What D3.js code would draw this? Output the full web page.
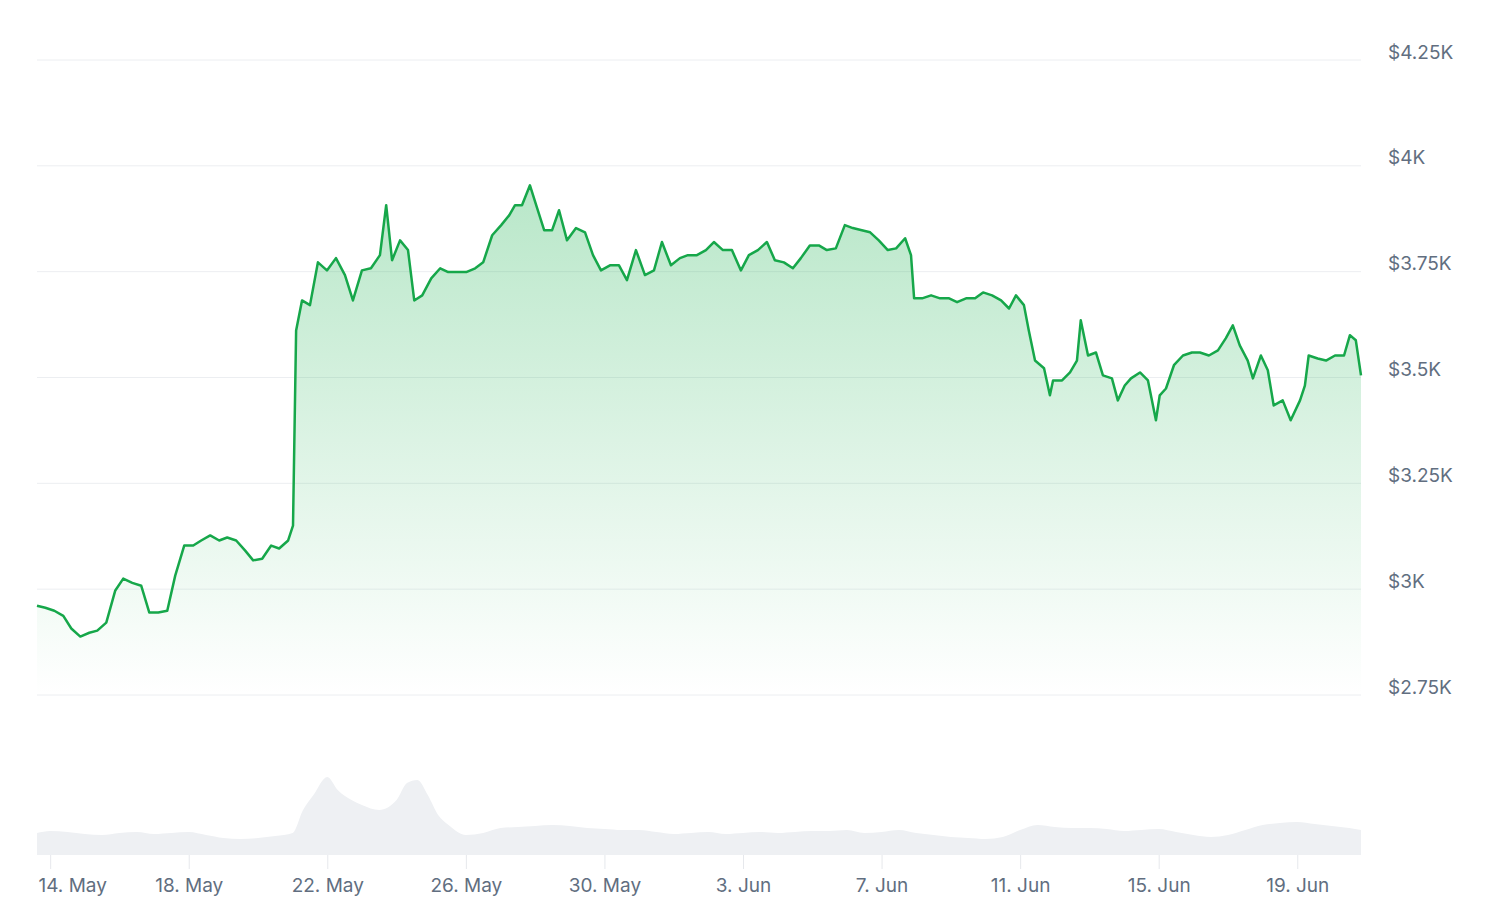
<!DOCTYPE html>
<html><head><meta charset="utf-8">
<script src="https://cdn.jsdelivr.net/npm/d3@7"></script>
<style>body{margin:0;background:#fff}svg{display:block}text{font-family:Inter,"DejaVu Sans",sans-serif}</style>
</head><body><svg id="c" width="1500" height="909"></svg>
<script>
// days after 14 May 2024 00:00 UTC, price in USD
const priceDays = [-0.38,-0.14,0.12,0.38,0.61,0.87,1.13,1.36,1.62,1.88,2.11,2.37,2.63,2.86,3.12,3.38,3.61,3.87,4.13,4.36,4.62,4.88,5.11,5.37,5.63,5.86,6.12,6.38,6.61,6.87,7.01,7.10,7.27,7.50,7.73,7.99,8.25,8.51,8.74,9.00,9.26,9.52,9.70,9.87,10.10,10.33,10.51,10.74,11.00,11.26,11.49,11.75,12.01,12.27,12.50,12.76,13.02,13.25,13.42,13.62,13.85,14.03,14.26,14.49,14.69,14.92,15.18,15.44,15.67,15.90,16.16,16.42,16.65,16.91,17.17,17.43,17.66,17.92,18.18,18.41,18.67,18.93,19.16,19.42,19.68,19.94,20.17,20.43,20.69,20.92,21.18,21.44,21.67,21.93,22.19,22.42,22.68,22.94,23.17,23.43,23.67,23.92,24.18,24.42,24.68,24.85,24.94,25.17,25.43,25.69,25.95,26.18,26.44,26.70,26.93,27.19,27.45,27.68,27.88,28.11,28.25,28.43,28.69,28.86,28.95,29.21,29.44,29.64,29.75,29.96,30.19,30.39,30.65,30.82,31.02,31.20,31.46,31.69,31.92,32.03,32.21,32.44,32.70,32.96,33.19,33.45,33.71,33.94,34.14,34.34,34.57,34.72,34.95,35.15,35.32,35.58,35.81,36.08,36.22,36.33,36.59,36.83,37.09,37.35,37.52,37.69,37.84];
const prices = [2961,2956,2949,2937,2907,2888,2897,2902,2921,2997,3025,3015,3008,2945,2945,2949,3032,3103,3103,3115,3127,3115,3122,3115,3091,3068,3072,3103,3096,3115,3150,3611,3682,3671,3772,3753,3782,3742,3682,3753,3758,3789,3907,3777,3824,3801,3682,3694,3734,3758,3749,3749,3749,3758,3772,3836,3860,3883,3907,3907,3954,3907,3848,3848,3895,3824,3853,3843,3789,3753,3765,3765,3730,3801,3742,3753,3820,3765,3782,3789,3789,3801,3820,3801,3801,3753,3789,3801,3820,3777,3772,3758,3782,3812,3812,3801,3805,3860,3853,3848,3843,3824,3801,3805,3829,3789,3687,3687,3694,3687,3687,3678,3687,3687,3701,3694,3682,3663,3694,3671,3611,3540,3522,3458,3493,3493,3512,3540,3635,3552,3559,3505,3498,3446,3481,3498,3512,3493,3399,3458,3474,3529,3552,3559,3559,3552,3564,3593,3623,3576,3540,3498,3552,3517,3434,3446,3399,3446,3481,3552,3545,3540,3552,3552,3600,3588,3505];
const volDays = [-0.38,0,0.5,1,1.5,2,2.5,3,3.5,4,4.5,5,5.5,6,6.5,7,7.3,7.6,8,8.3,8.7,9,9.5,10,10.3,10.6,10.9,11.2,11.5,12,12.5,13,13.5,14,14.5,15,15.5,16,16.5,17,17.5,18,18.5,19,19.5,20,20.5,21,21.5,22,22.5,23,23.5,24,24.5,25,25.5,26,26.5,27,27.5,28,28.5,29,29.5,30,30.5,31,31.5,32,32.5,33,33.5,34,34.5,35,35.5,36,36.5,37,37.5,37.84];
const volumes = [22,24,23,21,20,22,23,21,22,23,20,17,16,17,19,22,45,60,78,65,55,50,45,55,72,75,60,40,30,20,22,27,28,29,30,29,27,26,25,25,23,21,22,23,21,22,23,22,23,24,24,25,22,23,25,22,20,18,17,16,18,25,30,28,27,27,26,24,25,26,23,20,18,20,25,30,32,33,31,29,27,25];
const priceTicks = [2750,3000,3250,3500,3750,4000,4250];
const priceTickLabels = ["$2.75K","$3K","$3.25K","$3.5K","$3.75K","$4K","$4.25K"];
const dateTicks = ["2024-05-14","2024-05-18","2024-05-22","2024-05-26","2024-05-30","2024-06-03","2024-06-07","2024-06-11","2024-06-15","2024-06-19"];

const base = Date.UTC(2024,4,14);
const toDate = d => new Date(base + d*864e5);
const svg = d3.select("#c");
const x = d3.scaleUtc().domain([toDate(priceDays[0]), toDate(priceDays[priceDays.length-1])]).range([37,1361]);
const y = d3.scaleLinear().domain([2750,4250]).range([695,60]);
const yv = d3.scaleLinear().domain([0,80]).range([855,775]);

const defs = svg.append("defs");
const g = defs.append("linearGradient").attr("id","gf").attr("x1",0).attr("x2",0)
  .attr("gradientUnits","userSpaceOnUse").attr("y1",y(3954)).attr("y2",695);
g.append("stop").attr("offset",0).attr("stop-color","#22b455").attr("stop-opacity",0.32);
g.append("stop").attr("offset",0.9).attr("stop-color","#22b455").attr("stop-opacity",0.03);
g.append("stop").attr("offset",1).attr("stop-color","#22b455").attr("stop-opacity",0);

svg.append("g").selectAll("line").data(priceTicks).join("line")
  .attr("x1",37).attr("x2",1361).attr("y1",d=>y(d)).attr("y2",d=>y(d))
  .attr("stroke","#eceef1").attr("stroke-width",1);

const vpts = volDays.map((d,i)=>({t:toDate(d),v:volumes[i]}));
svg.append("path").datum(vpts)
  .attr("d", d3.area().x(d=>x(d.t)).y0(yv(0)).y1(d=>yv(d.v)).curve(d3.curveMonotoneX))
  .attr("fill","#eef0f3");

const pts = priceDays.map((d,i)=>({t:toDate(d),p:prices[i]}));
svg.append("path").datum(pts)
  .attr("d", d3.area().x(d=>x(d.t)).y0(695).y1(d=>y(d.p)))
  .attr("fill","url(#gf)");
svg.append("path").datum(pts)
  .attr("d", d3.line().x(d=>x(d.t)).y(d=>y(d.p)))
  .attr("fill","none").attr("stroke","#16a74a").attr("stroke-width",2.5).attr("stroke-linejoin","round");

svg.append("g").selectAll("text").data(priceTicks).join("text")
  .attr("x",1388).attr("y",d=>y(d)-8).attr("dy","0.35em")
  .attr("font-size",19).attr("fill","#616e80").text((d,i)=>priceTickLabels[i]);

const xt = dateTicks.map(s=>new Date(s+"T00:00:00Z"));
const fmt = d3.utcFormat("%-d. %b");
const xa = svg.append("g").attr("transform","translate(0,855)")
  .call(d3.axisBottom(x).tickValues(xt).tickFormat(fmt).tickSize(14).tickPadding(10));
xa.select(".domain").remove();
xa.selectAll(".tick line").attr("stroke","#e6e8ec");
xa.selectAll(".tick text").attr("font-size",19).attr("fill","#616e80").attr("font-family","Inter, sans-serif");
xa.selectAll(".tick text").filter((d,i)=>i===0).attr("text-anchor","start").attr("x",38-x(xt[0]));
</script></body></html>
